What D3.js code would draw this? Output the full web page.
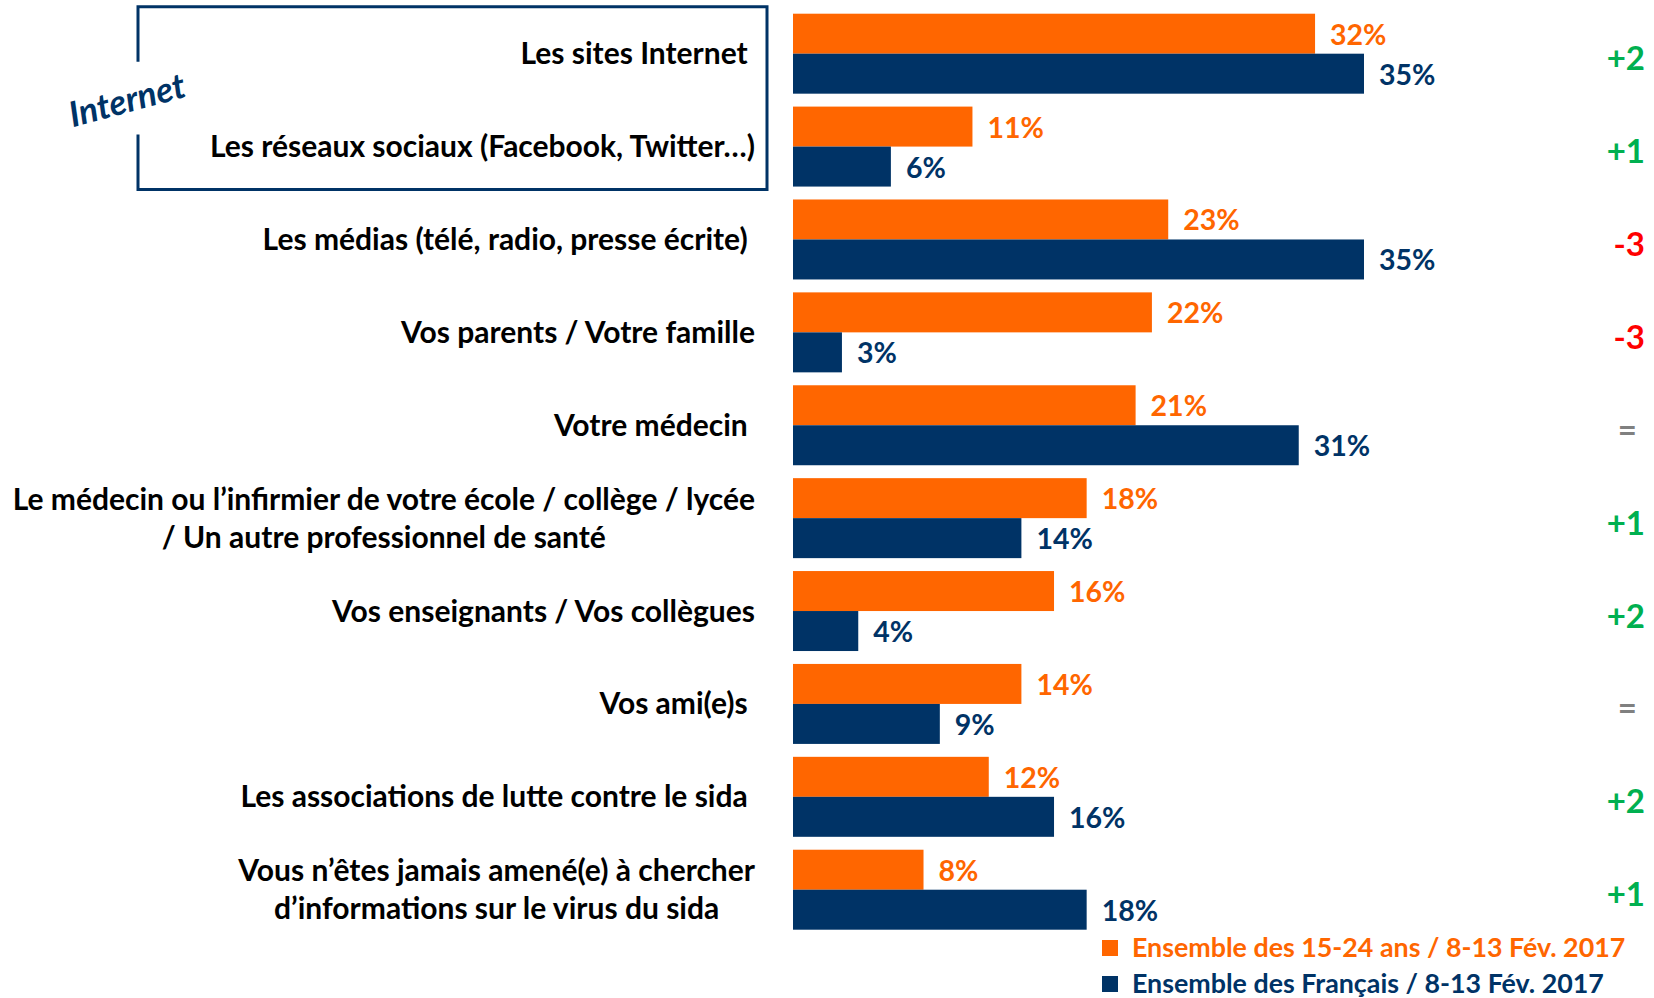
<!DOCTYPE html>
<html>
<head>
<meta charset="utf-8">
<script src="https://cdn.jsdelivr.net/npm/d3@7"></script>
<style>
  body { margin: 0; background: #fff; }
  svg text { font-family: Lato, "Open Sans", sans-serif; font-weight: bold; white-space: pre; }
</style>
</head>
<body>
<script>
// données
var categories = [
  "Les sites Internet\u00a0",
  "Les réseaux sociaux (Facebook, Twitter…)",
  "Les médias (télé, radio, presse écrite)\u00a0",
  "Vos parents / Votre famille",
  "Votre médecin\u00a0",
  "Le médecin ou l’infirmier de votre école / collège / lycée|/ Un autre professionnel de santé",
  "Vos enseignants / Vos collègues",
  "Vos ami(e)s\u00a0",
  "Les associations de lutte contre le sida\u00a0",
  "Vous n’êtes jamais amené(e) à chercher|d’informations sur le virus du sida"
];
var jeunes = [32, 11, 23, 22, 21, 18, 16, 14, 12, 8];
var francais = [35, 6, 35, 3, 31, 14, 4, 9, 16, 18];
var ecarts = ["+2", "+1", "-3", "-3", "=", "+1", "+2", "=", "+2", "+1"];
var series = ["Ensemble des 15-24 ans / 8-13 Fév. 2017", "Ensemble des Français / 8-13 Fév. 2017"];

var orange = "#ff6600", marine = "#003366";

var width = 1654, height = 998;
var svg = d3.select("body").append("svg")
    .attr("width", width)
    .attr("height", height);

// échelles
var x = d3.scaleLinear().domain([0, 35]).range([793, 1364]);
var y = d3.scaleBand().domain(categories).range([13.7, 929.7]).paddingInner(0.139).paddingOuter(0);
var sub = d3.scaleBand().domain([0, 1]).range([0, y.bandwidth()]);

var rows = svg.selectAll("g.row")
    .data(categories.map(function(c, i) { return {cat: c, vals: [jeunes[i], francais[i]], ecart: ecarts[i]}; }))
    .enter().append("g")
    .attr("class", "row")
    .attr("transform", function(d) { return "translate(0," + y(d.cat) + ")"; });

// barres
rows.selectAll("rect")
    .data(function(d) { return d.vals; })
    .enter().append("rect")
    .attr("x", x(0))
    .attr("y", function(d, i) { return sub(i); })
    .attr("width", function(d) { return x(d) - x(0); })
    .attr("height", sub.bandwidth())
    .attr("fill", function(d, i) { return i == 0 ? orange : marine; });

// valeurs
rows.selectAll("text.val")
    .data(function(d) { return d.vals; })
    .enter().append("text")
    .attr("class", "val")
    .attr("x", function(d) { return x(d) + 15; })
    .attr("y", function(d, i) { return sub(i) + sub.bandwidth() / 2 + 1; })
    .attr("dy", "0.35em")
    .attr("font-size", 28.5)
    .attr("fill", function(d, i) { return i == 0 ? orange : marine; })
    .text(function(d) { return d + "%"; });

// écarts
rows.append("text")
    .attr("x", function(d) { return d.ecart == "=" ? 1637 : 1645; })
    .attr("y", y.bandwidth() / 2 + 5)
    .attr("dy", "0.35em")
    .attr("text-anchor", "end")
    .attr("font-size", 33)
    .attr("fill", function(d) { return d.ecart == "=" ? "#808080" : (d.ecart[0] == "+" ? "#00b050" : "#ff0000"); })
    .text(function(d) { return d.ecart; });

// libellés
rows.each(function(d) {
  var lines = d.cat.split("|");
  var g = d3.select(this);
  var lh = 38;
  var t0 = null;
  lines.forEach(function(l, k) {
    var t = g.append("text")
      .attr("class", "lab")
      .attr("x", 755)
      .attr("y", y.bandwidth() / 2 + (k - (lines.length - 1) / 2) * lh)
      .attr("dy", "0.35em")
      .attr("text-anchor", "end")
      .attr("font-size", 30)
      .attr("fill", "#000")
      .text(l);
    if (k == 0) t0 = t;
  });
  if (lines.length > 1) {
    var w = t0.node().getComputedTextLength();
    g.selectAll("text.lab").attr("text-anchor", "middle").attr("x", 755 - w / 2);
  }
});

// cadre Internet
var haut = y(categories[0]) - 7, bas = y(categories[1]) + y.bandwidth() + 3;
svg.append("path")
    .attr("d", "M138," + (haut + 55) + "V" + haut + "H767V" + bas + "H138V" + (bas - 55))
    .attr("fill", "none")
    .attr("stroke", marine)
    .attr("stroke-width", 3);
svg.append("text")
    .attr("transform", "translate(127,100) rotate(-15)")
    .attr("text-anchor", "middle")
    .attr("dy", "0.35em")
    .attr("font-size", 35)
    .attr("font-style", "italic")
    .attr("fill", marine)
    .text("Internet");

// légende
var leg = svg.selectAll("g.leg").data(series).enter().append("g")
    .attr("transform", function(d, i) { return "translate(1102," + (948 + i * 36) + ")"; });
leg.append("rect").attr("x", 0).attr("y", -8).attr("width", 16).attr("height", 16)
    .attr("fill", function(d, i) { return i == 0 ? orange : marine; });
leg.append("text").attr("x", 30).attr("dy", "0.35em").attr("font-size", 26.8)
    .attr("fill", function(d, i) { return i == 0 ? orange : marine; })
    .text(function(d) { return d; });
</script>
</body>
</html>
